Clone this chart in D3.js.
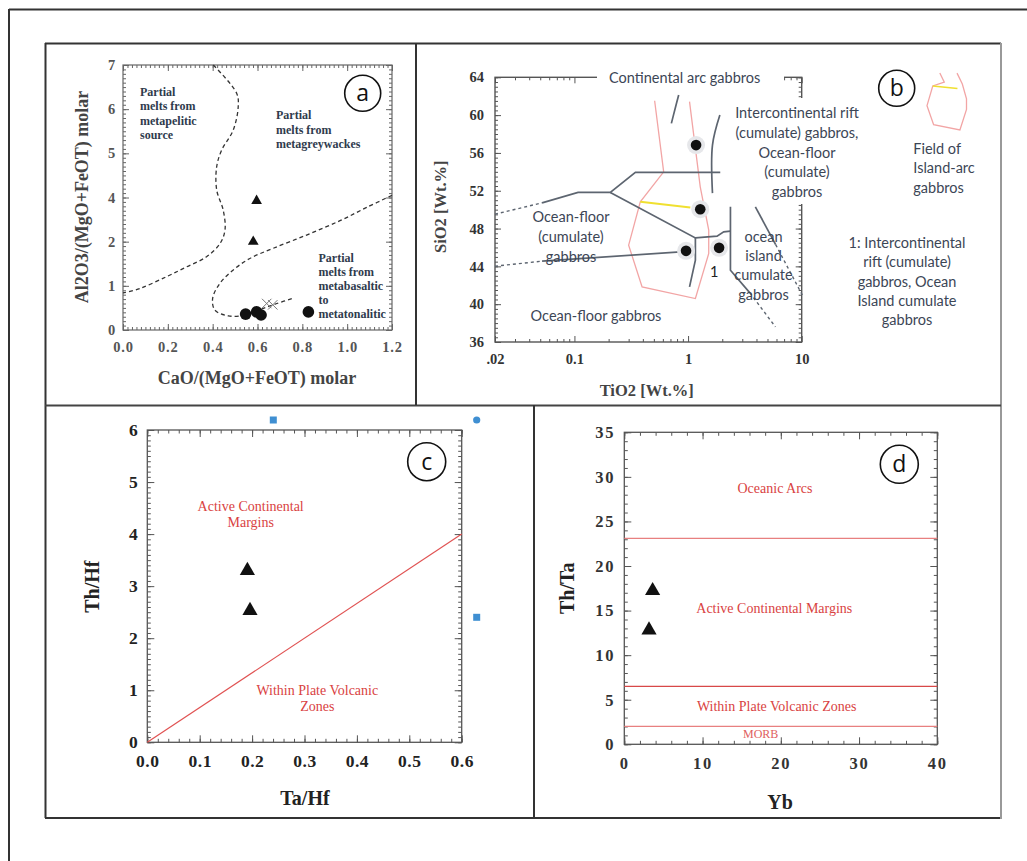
<!DOCTYPE html>
<html><head><meta charset="utf-8">
<script src="https://cdn.jsdelivr.net/npm/d3@7"></script>
<style>body{margin:0;background:#fff}svg{display:block}</style>
</head><body>
<svg id="chart" width="1027" height="861"></svg>
<script>
// ---------------- DATA ----------------
// Panel a
const aXTicks = [0, 0.2, 0.4, 0.6, 0.8, 1.0, 1.2];
const aYTickLabels = [0, 1, 2, 4, 5, 6, 7];
const aTriangles = [[0.596, 3.85], [0.581, 2.0]];
const aCircles = [[0.547, 0.36], [0.596, 0.41], [0.616, 0.34], [0.827, 0.41]];
const aCrosses = [[0.641, 0.60], [0.668, 0.57]];
const aUpperBoundary = [[0.403, 7.0], [0.507, 6.36], [0.514, 6.06], [0.492, 5.53], [0.44, 5.07], [0.418, 4.70], [0.418, 4.17], [0.447, 3.43], [0.455, 2.53], [0.433, 1.96], [0.373, 1.66], [0.284, 1.43], [0.195, 1.21], [0.076, 0.94], [0.0, 0.84]];
const aLowerBoundary = [[1.2, 4.05], [1.087, 3.55], [0.968, 2.95], [0.819, 2.3], [0.670, 1.85], [0.566, 1.62], [0.492, 1.36], [0.433, 1.06], [0.40, 0.72], [0.41, 0.45], [0.47, 0.32], [0.552, 0.34], [0.626, 0.49], [0.686, 0.60], [0.76, 0.72]];

// Panel b
const bXTickValues = [0.02, 0.1, 1, 10];
const bXTickLabels = [".02", "0.1", "1", "10"];
const bYTicks = [36, 40, 44, 48, 52, 56, 60, 64];
const bArcLine = [[0.827, 62.13], [0.77, 60.7], [0.713, 59.13]];
const bRiftLine = [[1.905, 60.0], [1.64, 56.83], [1.64, 51.75]];
const bUpperDashed = [[0.02, 49.52], [0.0519, 50.72]];
const bUpperSolid = [[0.0519, 50.72], [0.1076, 51.82], [0.207, 51.82], [0.344, 53.94], [1.92, 53.94]];
const bDiagonal = [[0.207, 51.82], [1.16, 47.01], [1.80, 47.19], [2.06, 47.65], [2.36, 47.72]];
const bLowerDashed = [[0.02, 44.02], [0.0519, 44.55]];
const bLowerSolid = [[0.0519, 44.55], [1.16, 45.64]];
const bInnerVertical = [[1.16, 47.01], [1.16, 44.65], [1.03, 41.83]];
const bOIBVertical = [[2.36, 50.30], [2.36, 43.59], [3.5, 41.2]];
const bOIBDashed = [[3.5, 41.2], [5.87, 37.6]];
const bRightSolid = [[3.91, 50.30], [5.9, 46.3]];
const bRightDashed = [[5.9, 46.3], [10.3, 40.8]];
const bIslandArcField = [[0.508, 61.52], [0.610, 54.0], [0.380, 50.83], [0.300, 46.24], [0.394, 41.83], [1.16, 40.6], [1.52, 45.36], [1.52, 47.83], [1.28, 52.41], [1.03, 61.42]];
const bFieldTie = [[0.380, 50.83], [1.047, 50.23]];
const bSamples = [[1.176, 56.83], [1.28, 50.05], [0.960, 45.64], [1.875, 45.96]];

// Panel c
const cXTicks = [0, 0.1, 0.2, 0.3, 0.4, 0.5, 0.6];
const cYTicks = [0, 1, 2, 3, 4, 5, 6];
const cTriangles = [[0.191, 3.30], [0.196, 2.53]];
const cBoundary = [[0, 0], [0.6, 4]];

// Panel d
const dXTicks = [0, 10, 20, 30, 40];
const dYTicks = [0, 5, 10, 15, 20, 25, 30, 35];
const dTriangles = [[3.62, 17.23], [3.16, 12.82]];
const dBoundaries = [23.1, 6.5, 2.0];

// ---------------- DRAW ----------------
const svg = d3.select("#chart");
const SERIF = "'Liberation Serif','Times New Roman',serif";
const SANS = "Lato,'Open Sans',sans-serif";

function range(a, b, step) { const out = []; for (let v = a; v <= b + 1e-9; v += step) out.push(+v.toFixed(6)); return out; }

function boxAxes(g, x, y, o) {
  const xr = x.range(), yr = y.range();
  const xl = xr[0], xR = xr[xr.length - 1], yb = yr[0], yt = yr[yr.length - 1];
  const yM = o.yMinorScale || y;
  const add = (axis, tr) => {
    const a = g.append("g").attr("transform", tr).call(axis);
    a.select(".domain").remove();
    a.selectAll("line").attr("stroke", o.color).attr("stroke-width", 1);
    return a;
  };
  const bx = add(d3.axisBottom(x).tickValues(o.xMajor).tickSizeInner(-o.major).tickSizeOuter(0).tickPadding(o.xPad).tickFormat(o.xFmt), `translate(0,${yb})`);
  add(d3.axisTop(x).tickValues(o.xMajor).tickSizeInner(-o.major).tickSizeOuter(0).tickFormat(""), `translate(0,${yt})`);
  add(d3.axisBottom(x).tickValues(o.xMinor).tickSizeInner(-o.minor).tickSizeOuter(0).tickFormat(""), `translate(0,${yb})`);
  add(d3.axisTop(x).tickValues(o.xMinor).tickSizeInner(-o.minor).tickSizeOuter(0).tickFormat(""), `translate(0,${yt})`);
  const ly = add(d3.axisLeft(y).tickValues(o.yMajor).tickSizeInner(-o.major).tickSizeOuter(0).tickPadding(o.yPad).tickFormat(o.yFmt), `translate(${xl},0)`);
  add(d3.axisRight(y).tickValues(o.yMajor).tickSizeInner(-o.major).tickSizeOuter(0).tickFormat(""), `translate(${xR},0)`);
  add(d3.axisLeft(yM).tickValues(o.yMinor).tickSizeInner(-o.minor).tickSizeOuter(0).tickFormat(""), `translate(${xl},0)`);
  add(d3.axisRight(yM).tickValues(o.yMinor).tickSizeInner(-o.minor).tickSizeOuter(0).tickFormat(""), `translate(${xR},0)`);
  [bx, ly].forEach(a => a.selectAll("text")
    .attr("font-family", SERIF).attr("font-weight", "bold")
    .attr("font-size", o.fs).attr("fill", o.textColor)
    .attr("letter-spacing", o.ls || 0));
  g.append("rect").attr("x", xl).attr("y", yt).attr("width", xR - xl).attr("height", yb - yt)
    .attr("fill", "none").attr("stroke", o.color).attr("stroke-width", o.fw || 1.2);
}

function title(g, text, x, y, rot, fs, color) {
  g.append("text").attr("transform", `translate(${x},${y}) rotate(${rot})`)
    .attr("text-anchor", "middle").attr("dy", "0.35em")
    .attr("font-family", SERIF).attr("font-weight", "bold").attr("font-size", fs)
    .attr("fill", color).text(text);
}

function lines(g, arr, anchor, fam, fs, color, weight) {
  arr.forEach(([t, xx, yy]) => g.append("text").attr("x", xx).attr("y", yy).attr("dy", "0.35em")
    .attr("text-anchor", anchor).attr("font-family", fam).attr("font-size", fs)
    .attr("font-weight", weight || "normal").attr("fill", color).text(t));
}

function badge(g, letter, cx, cy, r) {
  g.append("circle").attr("cx", cx).attr("cy", cy).attr("r", r).attr("fill", "#fff").attr("stroke", "#111").attr("stroke-width", 1.6);
  g.append("text").attr("x", cx).attr("y", cy).attr("dy", "0.35em").attr("text-anchor", "middle")
    .attr("font-family", "'Open Sans',sans-serif").attr("font-size", 23).attr("fill", "#111").text(letter);
}

// ---- frames ----
const frames = svg.append("g");
const fl = (x1, y1, x2, y2, c) => frames.append("line").attr("x1", x1).attr("y1", y1).attr("x2", x2).attr("y2", y2).attr("stroke", c).attr("stroke-width", 2);
fl(9, 9.5, 1027, 9.5, "#333");
fl(9, 9, 9, 861, "#333");
fl(45, 43.5, 1001, 43.5, "#333");
fl(45.5, 43, 45.5, 818, "#333");
fl(45, 818, 1001, 818, "#333");
fl(1001, 43, 1001, 819, "#999");
fl(45, 405.5, 1001, 405.5, "#444");
fl(416, 43, 416, 405, "#333");
fl(534, 405, 534, 818, "#333");

// ================= Panel a =================
const ga = svg.append("g");
const aX = d3.scaleLinear([0, 1.2], [123, 392]);
const aYIdx = d3.scaleLinear([0, aYTickLabels.length - 1], [330, 65]);
const aY = d3.scaleLinear(aYTickLabels, aYTickLabels.map((d, i) => aYIdx(i)));
boxAxes(ga, aX, aY, {
  xMajor: aXTicks, xMinor: range(0, 1.2, 0.02), yMajor: aYTickLabels, yMinor: range(0, 6, 0.1),
  yMinorScale: aYIdx, major: 6, minor: 3, xPad: 12, yPad: 7,
  xFmt: d3.format(".1f"), yFmt: d => d, fs: 14.5, ls: 0.8, textColor: "#555", color: "#666", fw: 1.2
});
const aLine = d3.line().x(d => aX(d[0])).y(d => aY(d[1])).curve(d3.curveCatmullRom);
[aUpperBoundary, aLowerBoundary].forEach(arr => ga.append("path").attr("d", aLine(arr))
  .attr("fill", "none").attr("stroke", "#333").attr("stroke-width", 1.3).attr("stroke-dasharray", "4,3"));
ga.selectAll(".ax").data(aCrosses).join("path")
  .attr("transform", d => `translate(${aX(d[0])},${aY(d[1])})`)
  .attr("d", d3.symbol(d3.symbolTimes, 60)).attr("fill", "none").attr("stroke", "#777").attr("stroke-width", 1);
ga.selectAll(".at").data(aTriangles).join("path")
  .attr("transform", d => `translate(${aX(d[0])},${aY(d[1])})`)
  .attr("d", d3.symbol(d3.symbolTriangle, 50)).attr("fill", "#111");
ga.selectAll(".ac").data(aCircles).join("circle")
  .attr("cx", d => aX(d[0])).attr("cy", d => aY(d[1])).attr("r", 5.8).attr("fill", "#111");
const aTxt = "#2f3b4d";
lines(ga, [["Partial", 140, 91.7], ["melts from", 140, 106], ["metapelitic", 140, 120.3], ["source", 140, 134.7]], "start", SERIF, 12, aTxt, "bold");
lines(ga, [["Partial", 276, 115], ["melts from", 276, 129.3], ["metagreywackes", 276, 143.7]], "start", SERIF, 12, aTxt, "bold");
lines(ga, [["Partial", 318.5, 257.3], ["melts from", 318.5, 271.3], ["metabasaltic", 318.5, 285.5], ["to", 318.5, 299.5], ["metatonalitic", 318.5, 313.5]], "start", SERIF, 12, aTxt, "bold");
title(ga, "CaO/(MgO+FeOT) molar", 257, 378, 0, 18, "#444");
title(ga, "Al2O3/(MgO+FeOT) molar", 81.5, 197, -90, 18, "#444");
badge(ga, "a", 362.7, 93.3, 18);

// ================= Panel b =================
const gb = svg.append("g");
const bX = d3.scaleLog([0.02, 10], [495, 801.7]);
const bY = d3.scaleLinear([36, 64], [342, 77.3]);
const bMinorX = [0.03, 0.04, 0.05, 0.06, 0.07, 0.08, 0.09, 0.2, 0.3, 0.4, 0.5, 0.6, 0.7, 0.8, 0.9, 2, 3, 4, 5, 6, 7, 8, 9];
boxAxes(gb, bX, bY, {
  xMajor: bXTickValues, xMinor: bMinorX, yMajor: bYTicks, yMinor: range(36, 64, 0.5),
  major: 6, minor: 3, xPad: 12, yPad: 11,
  xFmt: d => bXTickLabels[bXTickValues.indexOf(d)], yFmt: d => d, fs: 14.5, textColor: "#333", color: "#555", fw: 1.4
});
// white backgrounds behind labels that interrupt the frame
gb.append("rect").attr("x", 597).attr("y", 68).attr("width", 187).attr("height", 20).attr("fill", "#fff");
gb.append("rect").attr("x", 731).attr("y", 98).attr("width", 134).attr("height", 106).attr("fill", "#fff");

const bLine = d3.line().x(d => bX(d[0])).y(d => bY(d[1]));
const bCurve = d3.line().x(d => bX(d[0])).y(d => bY(d[1])).curve(d3.curveCatmullRom);
const grayLine = "#5d6570";
gb.append("path").attr("d", bLine(bIslandArcField)).attr("fill", "none").attr("stroke", "#f2a5a5").attr("stroke-width", 1.3);
gb.append("path").attr("d", bLine(bFieldTie)).attr("fill", "none").attr("stroke", "#f0e030").attr("stroke-width", 2);
[bUpperSolid, bDiagonal, bLowerSolid, bInnerVertical, bOIBVertical, bRightSolid].forEach(arr =>
  gb.append("path").attr("d", bLine(arr)).attr("fill", "none").attr("stroke", grayLine).attr("stroke-width", 1.7));
[bArcLine, bRiftLine].forEach(arr =>
  gb.append("path").attr("d", bCurve(arr)).attr("fill", "none").attr("stroke", grayLine).attr("stroke-width", 1.7));
[bUpperDashed, bLowerDashed, bOIBDashed, bRightDashed].forEach(arr =>
  gb.append("path").attr("d", bLine(arr)).attr("fill", "none").attr("stroke", grayLine).attr("stroke-width", 1.4).attr("stroke-dasharray", "3,3"));
gb.selectAll(".bh").data(bSamples).join("circle")
  .attr("cx", d => bX(d[0])).attr("cy", d => bY(d[1])).attr("r", 9).attr("fill", "#e6e7ea");
gb.selectAll(".bd").data(bSamples).join("circle")
  .attr("cx", d => bX(d[0])).attr("cy", d => bY(d[1])).attr("r", 5.3).attr("fill", "#111");

const bTxt = "#3c4656";
const bFs = 14.5;
lines(gb, [["Continental arc gabbros", 609, 77.5]], "start", SANS, bFs, bTxt);
lines(gb, [["Intercontinental rift", 797, 113.3], ["(cumulate) gabbros,", 797, 132.7], ["Ocean-floor", 797, 152.5], ["(cumulate)", 797, 172.3], ["gabbros", 797, 191.7]], "middle", SANS, bFs, bTxt);
lines(gb, [["Ocean-floor", 571, 217.3], ["(cumulate)", 571, 237.3], ["gabbros", 571, 256.7]], "middle", SANS, bFs, bTxt);
lines(gb, [["Ocean-floor gabbros", 596, 316]], "middle", SANS, bFs, bTxt);
lines(gb, [["ocean", 763.5, 236.7], ["island", 763.5, 256], ["cumulate", 763.5, 275.3], ["gabbros", 763.5, 295]], "middle", SANS, bFs, bTxt);
lines(gb, [["1", 714.3, 271.7]], "middle", SANS, bFs, "#222");
lines(gb, [["Field of", 913.3, 149], ["Island-arc", 913.3, 168.3], ["gabbros", 913.3, 187.7]], "start", SANS, bFs, bTxt);
lines(gb, [["1: Intercontinental", 907, 242.7], ["rift (cumulate)", 907, 262.3], ["gabbros, Ocean", 907, 281.7], ["Island cumulate", 907, 301], ["gabbros", 907, 320.3]], "middle", SANS, bFs, bTxt);
title(gb, "TiO2 [Wt.%]", 646.7, 390, 0, 16.5, "#444");
title(gb, "SiO2 [Wt.%]", 440, 206.7, -90, 16.5, "#444");
badge(gb, "b", 896.7, 88.3, 18);
// legend glyph: miniature of the island-arc field
const lgX = d3.scaleLog([0.3, 1.52], [927, 966.5]);
const lgY = d3.scaleLinear([40.6, 50.8, 61.5], [130, 86, 73]);
const lgLine = d3.line().x(d => lgX(d[0])).y(d => lgY(d[1]));
gb.append("path").attr("d", lgLine(bIslandArcField)).attr("fill", "none").attr("stroke", "#f2a5a5").attr("stroke-width", 1.3);
gb.append("path").attr("d", lgLine(bFieldTie)).attr("fill", "none").attr("stroke", "#f0e030").attr("stroke-width", 1.6);

// ================= Panel c =================
const gc = svg.append("g");
const cX = d3.scaleLinear([0, 0.6], [147.3, 461.7]);
const cY = d3.scaleLinear([0, 6], [742.3, 430]);
boxAxes(gc, cX, cY, {
  xMajor: cXTicks, xMinor: range(0, 0.6, 0.02), yMajor: cYTicks, yMinor: range(0, 6, 0.1),
  major: 7, minor: 3.5, xPad: 12, yPad: 9,
  xFmt: d3.format(".1f"), yFmt: d => d, fs: 17.5, ls: 0.5, textColor: "#222", color: "#555", fw: 1.3
});
gc.append("path").attr("d", d3.line().x(d => cX(d[0])).y(d => cY(d[1]))(cBoundary))
  .attr("fill", "none").attr("stroke", "#e05252").attr("stroke-width", 1.2);
gc.selectAll(".ct").data(cTriangles).join("path")
  .attr("transform", d => `translate(${cX(d[0])},${cY(d[1])})`)
  .attr("d", d3.symbol(d3.symbolTriangle, 100)).attr("fill", "#111");
const red = "#d94242";
lines(gc, [["Active Continental", 250.7, 506], ["Margins", 250.7, 522]], "middle", SERIF, 14, red);
lines(gc, [["Within Plate Volcanic", 317.3, 690], ["Zones", 317.3, 706.3]], "middle", SERIF, 14, red);
title(gc, "Ta/Hf", 305, 798.3, 0, 20, "#222");
title(gc, "Th/Hf", 91.7, 586.7, -90, 20, "#222");
badge(gc, "c", 426.7, 461.7, 19);
// selection handles visible in the source image
const blue = "#3f8fd2";
gc.append("rect").attr("x", 269.8).attr("y", 416.5).attr("width", 7).attr("height", 7).attr("fill", blue);
gc.append("circle").attr("cx", 476.7).attr("cy", 420).attr("r", 3.6).attr("fill", blue);
gc.append("rect").attr("x", 473.2).attr("y", 613.8).attr("width", 7).attr("height", 7).attr("fill", blue);

// ================= Panel d =================
const gd = svg.append("g");
const dX = d3.scaleLinear([0, 40], [624.3, 937.3]);
const dY = d3.scaleLinear([0, 35], [744.3, 432.3]);
boxAxes(gd, dX, dY, {
  xMajor: dXTicks, xMinor: range(0, 40, 2), yMajor: dYTicks, yMinor: range(0, 35, 1),
  major: 7, minor: 3.5, xPad: 13, yPad: 9,
  xFmt: d => d, yFmt: d => d, fs: 16.5, ls: 1.8, textColor: "#333", color: "#555", fw: 1.3
});
gd.selectAll(".dl").data(dBoundaries).join("line")
  .attr("x1", dX(0)).attr("x2", dX(40)).attr("y1", d => dY(d)).attr("y2", d => dY(d))
  .attr("stroke", (d, i) => i === 1 ? "#d84848" : "#e88080").attr("stroke-width", 1.3);
gd.selectAll(".dt").data(dTriangles).join("path")
  .attr("transform", d => `translate(${dX(d[0])},${dY(d[1])})`)
  .attr("d", d3.symbol(d3.symbolTriangle, 100)).attr("fill", "#111");
lines(gd, [["Oceanic Arcs", 775, 488.3]], "middle", SERIF, 14, red);
lines(gd, [["Active Continental Margins", 774.3, 607.7]], "middle", SERIF, 14, red);
lines(gd, [["Within Plate Volcanic Zones", 776.7, 706.5]], "middle", SERIF, 14, red);
lines(gd, [["MORB", 760.7, 734]], "middle", SERIF, 12, "#e06060");
title(gd, "Yb", 780, 801.7, 0, 20, "#222");
title(gd, "Th/Ta", 566.7, 588.3, -90, 20, "#222");
badge(gd, "d", 899.3, 464.3, 19);
</script>
</body></html>
